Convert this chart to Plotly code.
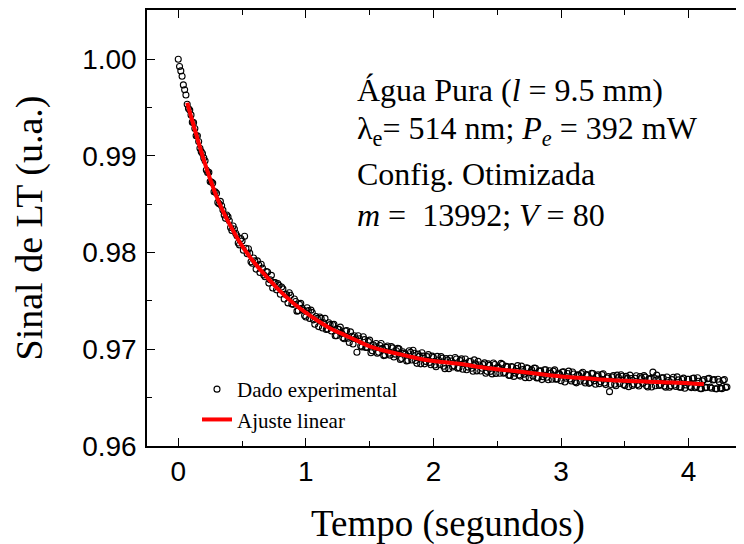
import plotly.graph_objects as go

# medido: sinal de lente térmica normalizado
# série A: t = 0.00, 0.02, ... 4.30 s
t0_a, dt = 0.0, 0.02
sinal_a = [
    1.00000, 0.99880, 0.99735, 0.99630, 0.99490, 0.99425, 0.99345, 0.99210, 0.99150, 0.99045,
    0.98980, 0.98855, 0.98830, 0.98730, 0.98630, 0.98615, 0.98505, 0.98485, 0.98390, 0.98390,
    0.98330, 0.98230, 0.98245, 0.98175, 0.98080, 0.98120, 0.98170, 0.97990, 0.97995, 0.97890,
    0.97915, 0.97915, 0.97795, 0.97840, 0.97750, 0.97800, 0.97720, 0.97635, 0.97690, 0.97680,
    0.97570, 0.97625, 0.97570, 0.97480, 0.97560, 0.97465, 0.97495, 0.97400, 0.97475, 0.97405,
    0.97335, 0.97400, 0.97405, 0.97305, 0.97340, 0.97235, 0.97320, 0.97275, 0.97205, 0.97275,
    0.97190, 0.97260, 0.97140, 0.97205, 0.97165, 0.97110, 0.97195, 0.97070, 0.97135, 0.97140,
    0.96970, 0.97110, 0.97025, 0.97100, 0.97020, 0.97095, 0.96985, 0.97025, 0.96960, 0.97040,
    0.97010, 0.96940, 0.97035, 0.96940, 0.97015, 0.96950, 0.97010, 0.96895, 0.96975, 0.96950,
    0.96885, 0.96970, 0.96990, 0.96885, 0.96950, 0.96850, 0.96930, 0.96875, 0.96945, 0.96840,
    0.96915, 0.96820, 0.96890, 0.96925, 0.96825, 0.96905, 0.96800, 0.96880, 0.96830, 0.96900,
    0.96810, 0.96901, 0.96857, 0.96788, 0.96874, 0.96805, 0.96891, 0.96777, 0.96838, 0.96804,
    0.96860, 0.96772, 0.96834, 0.96746, 0.96843, 0.96805, 0.96752, 0.96844, 0.96761, 0.96818,
    0.96730, 0.96817, 0.96754, 0.96831, 0.96723, 0.96790, 0.96707, 0.96804, 0.96761, 0.96723,
    0.96805, 0.96707, 0.96779, 0.96716, 0.96788, 0.96685, 0.96752, 0.96774, 0.96691, 0.96753,
    0.96675, 0.96768, 0.96701, 0.96774, 0.96672, 0.96745, 0.96653, 0.96731, 0.96749, 0.96672,
    0.96740, 0.96648, 0.96751, 0.96674, 0.96722, 0.96645, 0.96738, 0.96651, 0.96704, 0.96562,
    0.96715, 0.96639, 0.96733, 0.96647, 0.96721, 0.96625, 0.96699, 0.96733, 0.96627, 0.96701,
    0.96635, 0.96719, 0.96648, 0.96712, 0.96611, 0.96700, 0.96764, 0.96623, 0.96692, 0.96636,
    0.96705, 0.96609, 0.96678, 0.96622, 0.96711, 0.96615, 0.96684, 0.96608, 0.96702, 0.96631,
    0.96690, 0.96604, 0.96702, 0.96616, 0.96670, 0.96593, 0.96687, 0.96606, 0.96699, 0.96598,
    0.96687, 0.96591, 0.96664, 0.96593, 0.96687, 0.96610,
]
# série B: t = 0.01, 0.03, ... 4.29 s
t0_b = 0.01
sinal_b = [
    0.99925, 0.99825, 0.99685, 0.99535, 0.99475, 0.99350, 0.99285, 0.99210, 0.99080, 0.99025,
    0.98950, 0.98830, 0.98735, 0.98720, 0.98630, 0.98520, 0.98530, 0.98440, 0.98355, 0.98370,
    0.98260, 0.98275, 0.98200, 0.98100, 0.98145, 0.98025, 0.98045, 0.98040, 0.97905, 0.97945,
    0.97830, 0.97875, 0.97880, 0.97770, 0.97805, 0.97685, 0.97765, 0.97690, 0.97615, 0.97660,
    0.97645, 0.97520, 0.97565, 0.97585, 0.97470, 0.97520, 0.97395, 0.97465, 0.97425, 0.97350,
    0.97430, 0.97320, 0.97380, 0.97260, 0.97320, 0.97335, 0.97220, 0.97320, 0.97210, 0.97255,
    0.97255, 0.97140, 0.97210, 0.97230, 0.97120, 0.97190, 0.97115, 0.97180, 0.97055, 0.97110,
    0.97140, 0.97035, 0.97130, 0.97020, 0.97080, 0.96965, 0.97045, 0.97060, 0.96970, 0.97060,
    0.96935, 0.97020, 0.96960, 0.97030, 0.96920, 0.96985, 0.97005, 0.96905, 0.96960, 0.96880,
    0.96985, 0.96890, 0.96960, 0.96855, 0.96930, 0.96965, 0.96850, 0.96925, 0.96865, 0.96930,
    0.96838, 0.96927, 0.96843, 0.96907, 0.96800, 0.96890, 0.96908, 0.96817, 0.96915, 0.96805,
    0.96883, 0.96794, 0.96900, 0.96816, 0.96877, 0.96773, 0.96849, 0.96875, 0.96776, 0.96842,
    0.96753, 0.96850, 0.96772, 0.96859, 0.96751, 0.96813, 0.96855, 0.96752, 0.96824, 0.96731,
    0.96823, 0.96720, 0.96802, 0.96734, 0.96826, 0.96743, 0.96810, 0.96707, 0.96789, 0.96806,
    0.96703, 0.96775, 0.96687, 0.96789, 0.96711, 0.96778, 0.96690, 0.96787, 0.96694, 0.96741,
    0.96764, 0.96662, 0.96750, 0.96693, 0.96766, 0.96664, 0.96737, 0.96670, 0.96763, 0.96651,
    0.96729, 0.96657, 0.96750, 0.96638, 0.96736, 0.96664, 0.96747, 0.96635, 0.96718, 0.96636,
    0.96730, 0.96624, 0.96708, 0.96737, 0.96636, 0.96720, 0.96614, 0.96698, 0.96642, 0.96726,
    0.96620, 0.96704, 0.96728, 0.96622, 0.96691, 0.96610, 0.96704, 0.96733, 0.96627, 0.96706,
    0.96620, 0.96714, 0.96608, 0.96687, 0.96631, 0.96715, 0.96609, 0.96688, 0.96597, 0.96691,
    0.96615, 0.96698, 0.96602, 0.96706, 0.96594, 0.96673, 0.96602, 0.96695, 0.96609, 0.96683,
    0.96592, 0.96690, 0.96599, 0.96678, 0.96606,
]
tempo_a = [round(t0_a + i * dt, 2) for i in range(len(sinal_a))]
tempo_b = [round(t0_b + i * dt, 2) for i in range(len(sinal_b))]

# curva ajustada
tempo_ajuste = [0.07, 0.10, 0.15, 0.20, 0.25, 0.30, 0.35, 0.40, 0.45, 0.50, 0.60, 0.70,
                0.80, 0.90, 1.00, 1.10, 1.20, 1.30, 1.40, 1.50, 1.60, 1.70, 1.80, 1.90,
                2.00, 2.20, 2.40, 2.60, 2.80, 3.00, 3.20, 3.40, 3.60, 3.80, 4.00, 4.12]
sinal_ajuste = [0.9955, 0.9941, 0.9918, 0.9896, 0.9876, 0.9858, 0.9843, 0.9830, 0.9818,
                0.9807, 0.9789, 0.9774, 0.9760, 0.9748, 0.9738, 0.9729, 0.9721, 0.9715,
                0.9709, 0.9703, 0.9699, 0.9696, 0.9693, 0.9690, 0.9688, 0.9685, 0.9681,
                0.9678, 0.9675, 0.9672, 0.9670, 0.9668, 0.9667, 0.9666, 0.9665, 0.9664]

xticks = [0, 1, 2, 3, 4]
yticks = [0.96, 0.97, 0.98, 0.99, 1.00]

SERIF = "Liberation Serif, Times New Roman, serif"
SANS = "Liberation Sans, Arial, sans-serif"

fig = go.Figure()
fig.add_trace(go.Scatter(
    x=tempo_a + tempo_b, y=sinal_a + sinal_b, mode="markers", name="Dado experimental",
    marker=dict(symbol="circle-open", size=6, color="black", line=dict(width=1.1, color="black")),
))
fig.add_trace(go.Scatter(
    x=tempo_ajuste, y=sinal_ajuste, mode="lines", name="Ajuste linear",
    line=dict(color="#ff0000", width=4, shape="spline"),
))

axis_common = dict(
    showline=True, linecolor="black", linewidth=1.5, mirror="allticks",
    ticks="inside", ticklen=8, tickwidth=1.3, tickcolor="black",
    showgrid=False, zeroline=False, automargin=False,
    tickfont=dict(family=SANS, size=28, color="black"),
)

fig.update_xaxes(
    range=[-0.245, 4.473], tickvals=xticks, ticktext=[str(v) for v in xticks],
    minor=dict(dtick=0.5, tick0=0, ticks="inside", ticklen=5, tickcolor="black"),
    title=dict(text="Tempo (segundos)", font=dict(family=SERIF, size=37, color="black"), standoff=24),
    **axis_common,
)
fig.update_yaxes(
    range=[0.96, 1.0051], tickvals=yticks, ticktext=[f"{v:.2f}" for v in yticks],
    minor=dict(dtick=0.005, tick0=0.96, ticks="inside", ticklen=5, tickcolor="black"),
    title=dict(text="Sinal de LT (u.a.)", font=dict(family=SERIF, size=38, color="black"), standoff=30),
    ticklabelstandoff=3,
    **axis_common,
)

# a página desloca a figura 8 px (margem do body); posições em px da tela -> paper
PL, PT, PW, PH = 147, 10, 602, 436
def px(xs, ys):
    return (xs - PL) / PW, (PT + PH - ys) / PH

linhas = [
    "Água Pura (<i>l</i> = 9.5 mm)",
    "λ<sub>e</sub>= 514 nm; <i>P</i><sub><i>e</i></sub> = 392 mW",
    "Config. Otimizada",
    "<i>m</i> =\u00a0\u00a013992; <i>V</i> = 80",
]
centros = [90, 131, 174, 215]
anns = []
for txt, yc in zip(linhas, centros):
    xa, ya = px(355, yc)
    anns.append(dict(text=txt, x=xa, y=ya, xref="paper", yref="paper", xanchor="left",
                     yanchor="middle", showarrow=False,
                     font=dict(family=SERIF, size=32, color="black")))

lx, ly = px(197, 369)
fig.update_layout(
    width=744, height=544,
    margin=dict(l=139, r=3, t=2, b=106),
    paper_bgcolor="white", plot_bgcolor="white",
    showlegend=True,
    legend=dict(x=lx, y=ly, xanchor="left", yanchor="top", bgcolor="rgba(0,0,0,0)",
                font=dict(family=SERIF, size=21, color="black"), tracegroupgap=0),
    annotations=anns,
)

fig.write_html("out.html")
